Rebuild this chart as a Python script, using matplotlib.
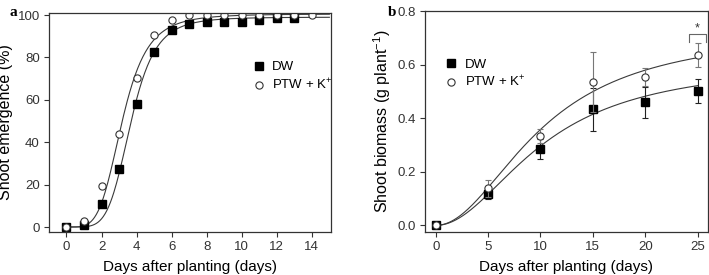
import numpy as np
import matplotlib
matplotlib.use("Agg")
import matplotlib.pyplot as plt
from matplotlib.lines import Line2D

plt.rcParams["font.family"] = ["Liberation Sans", "DejaVu Sans"]
plt.rcParams["mathtext.fontset"] = "custom"
plt.rcParams["mathtext.rm"] = "Liberation Sans"
plt.rcParams["mathtext.it"] = "Liberation Sans:italic"
plt.rcParams["axes.linewidth"] = 0.9
plt.rcParams["axes.edgecolor"] = "#333333"
plt.rcParams["xtick.color"] = "#333333"
plt.rcParams["ytick.color"] = "#333333"

# panel a: shoot emergence (%)
days_a_dw = np.arange(0, 14)
dw_a = [0, 1, 11, 27.5, 58, 82.5, 93, 95.6, 96.5, 96.5, 96.5, 97.6, 98.6, 98.6]
days_a_ptw = np.arange(0, 15)
ptw_a = [0, 3, 19.4, 44, 70.5, 90.8, 97.6, 100, 100, 100, 100, 100, 100, 100, 100]
# fitted sigmoid parameters (top, half-time, slope)
fit_a_dw = (99.0, 3.68, 5.26)
fit_a_ptw = (100.5, 3.19, 4.42)

# panel b: shoot biomass (g plant-1)
days_b = [0, 5, 10, 15, 20, 25]
dw_b = [0, 0.119, 0.284, 0.433, 0.459, 0.502]
dw_b_err = [0, 0.021, 0.038, 0.081, 0.057, 0.044]
ptw_b = [0, 0.138, 0.333, 0.536, 0.555, 0.636]
ptw_b_err = [0, 0.031, 0.025, 0.112, 0.033, 0.045]
fit_b_dw = (0.61, 10.3, 2.0)
fit_b_ptw = (0.73, 10.2, 2.0)


def hill(x, top, half, n):
    return top * x ** n / (half ** n + x ** n)


fig = plt.figure(figsize=(7.09, 2.75), dpi=100)
ax1 = fig.add_axes([0.069, 0.156, 0.398, 0.797])
ax2 = fig.add_axes([0.599, 0.156, 0.399, 0.804])

mk = dict(linestyle="none", markersize=5.2)
line_col = "#3a3a3a"

handles = [
    Line2D([], [], marker="s", color="black", linestyle="none", markersize=5.2),
    Line2D([], [], marker="o", mfc="white", mec="#333333", mew=0.8, linestyle="none", markersize=5.2),
]
labels = ["DW", "PTW + K$^{+}$"]
leg_kw = dict(loc="upper left", frameon=False, fontsize=9.5, handletextpad=0.5,
              labelspacing=0.3, handlelength=1.0, borderpad=0)

# --- a ---
xx = np.linspace(0, 15, 300)
ax1.plot(xx, hill(xx, *fit_a_dw), color=line_col, lw=0.8)
ax1.plot(xx, hill(xx, *fit_a_ptw), color=line_col, lw=0.8)
ax1.plot(days_a_dw, dw_a, marker="s", color="black", **mk)
ax1.plot(days_a_ptw, ptw_a, marker="o", mfc="white", mec="#333333", mew=0.8, **mk)
ax1.set_xlim(-1.0, 15.1)
ax1.set_ylim(-2.4, 101)
ax1.set_xticks(range(0, 15, 2))
ax1.set_yticks(range(0, 101, 20))
ax1.set_xlabel("Days after planting (days)", fontsize=11, labelpad=5)
ax1.set_ylabel("Shoot emergence (%)", fontsize=11.5, labelpad=3)
ax1.legend(handles, labels, bbox_to_anchor=(0.697, 0.81), **leg_kw)
fig.text(10 / 709, 1 - 13 / 275, "a", fontsize=11, fontweight="bold",
         family="Liberation Serif", va="center")

# --- b ---
xb = np.linspace(0, 25, 300)
ax2.plot(xb, hill(xb, *fit_b_dw), color=line_col, lw=0.8)
ax2.plot(xb, hill(xb, *fit_b_ptw), color=line_col, lw=0.8)
ax2.errorbar(days_b, dw_b, yerr=dw_b_err, fmt="s", color="black", ecolor="#222222",
             elinewidth=0.8, capsize=2.5, capthick=0.8, markersize=5.2, zorder=3)
ax2.errorbar(days_b, ptw_b, yerr=ptw_b_err, fmt="o", mfc="white", mec="#333333", mew=0.8,
             ecolor="#777777", elinewidth=0.8, capsize=2.5, capthick=0.8, markersize=5.2,
             zorder=4)
ax2.plot([24.15, 24.15, 25.8, 25.8], [0.685, 0.714, 0.714, 0.685], color="#666666", lw=0.8,
         clip_on=False)
ax2.text(24.98, 0.712, "*", ha="center", va="bottom", fontsize=9, color="#333333")
ax2.set_xlim(-1.05, 25.95)
ax2.set_ylim(-0.025, 0.8)
ax2.set_xticks(range(0, 26, 5))
ax2.set_yticks(np.arange(0, 0.81, 0.2))
ax2.yaxis.set_major_formatter(matplotlib.ticker.FormatStrFormatter("%.1f"))
ax2.set_xlabel("Days after planting (days)", fontsize=11, labelpad=5)
ax2.set_ylabel("Shoot biomass (g plant$^{-1}$)", fontsize=11.5, labelpad=3)
ax2.legend(handles, labels, bbox_to_anchor=(0.048, 0.815), **leg_kw)
fig.text(388 / 709, 1 - 13 / 275, "b", fontsize=11, fontweight="bold",
         family="Liberation Serif", va="center")

for ax in (ax1, ax2):
    ax.tick_params(direction="out", length=3.5, width=0.8, labelsize=9.5, pad=3)

fig.savefig("out.png", dpi=100)
